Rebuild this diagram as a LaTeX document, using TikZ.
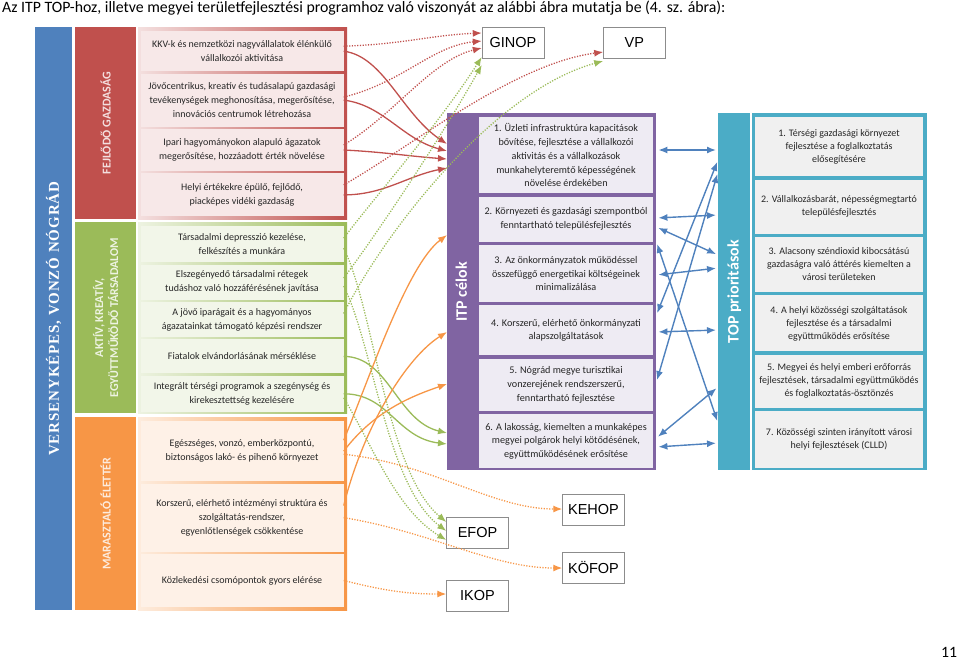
\documentclass[tikz,border=0pt]{standalone}
\usepackage{fontspec}
\setmainfont{Carlito}
\newfontfamily\progfont{Liberation Sans}
\newfontfamily\headfont[LetterSpace=6]{Liberation Serif}
\usetikzlibrary{positioning}
\usetikzlibrary{calc}
\usetikzlibrary{arrows.meta}
\definecolor{vers-blue}{HTML}{4F81BD}
\definecolor{gazd-red}{HTML}{C0504D}
\definecolor{tars-green}{HTML}{9BBB59}
\definecolor{elet-orange}{HTML}{F79646}
\definecolor{itp-purple}{HTML}{8064A2}
\definecolor{top-teal}{HTML}{4BACC6}
\colorlet{body}{black!85}

\begin{document}
\begin{tikzpicture}[x=1pt, y=1pt,
  band/.style={anchor=north west, minimum width=61pt, inner sep=0pt, fill=#1},
  panel/.style={anchor=north west, minimum width=209pt, inner sep=0pt, left color=#1!18, right color=#1},
  bandlabel/.style={rotate=90, align=center, font=\bfseries\fontsize{12}{15}\selectfont},
  goal/.style={fill=#1!13!white, text=body, align=center, inner sep=0pt, minimum width=203pt, font=\fontsize{10}{14}\selectfont},
  prio/.style={fill=#1, text=body, align=center, inner sep=0pt, font=\fontsize{10.2}{13.8}\selectfont},
  prog/.style={draw=black!45, fill=white, inner sep=0pt, minimum width=62pt, minimum height=31pt, font=\progfont\fontsize{14.5}{17}\selectfont},
  flow/.style={line width=1.3pt, -{Latex[length=9pt, width=7pt]}},
  dots/.style={line width=1.3pt, dash pattern=on 1.2pt off 1.5pt, -{Latex[length=9pt, width=7pt]}},
  both/.style={draw=vers-blue, line width=1.4pt, {Latex[length=9pt, width=7pt]}-{Latex[length=9pt, width=7pt]}, shorten <=2pt, shorten >=2pt}
]
\useasboundingbox (0,0) rectangle (960,-661);

% Title
\node[anchor=west, inner sep=0pt, font=\fontsize{15.8}{19}\selectfont] (cim) at (2,-8) {Az ITP TOP-hoz, illetve megyei területfejlesztési programhoz való viszonyát az alábbi ábra mutatja be (4. sz. ábra):};
\node[inner sep=0pt, font=\fontsize{15.8}{19}\selectfont] (oldal) at (949,-652) {11};

% Vision
\node[band=vers-blue, minimum width=37pt, minimum height=583pt] (versband) at (35,-27) {};
\node[rotate=90, text=white, font=\headfont\bfseries\fontsize{15}{18}\selectfont] (verslabel) at (versband.center) {VERSENYKÉPES, VONZÓ NÓGRÁD};

% Fejlodo gazdasag
\node[band=gazd-red, minimum height=192pt] (gazdband) at (75,-27) {};
\node[bandlabel, text=white!82!gazd-red] (gazdlabel) at (gazdband.center) {FEJLŐDŐ GAZDASÁG};
\node[panel=gazd-red, minimum height=192pt] (gazdpanel) at (138,-27) {};
\node[goal=gazd-red, anchor=north, minimum height=40pt] (r1) at (242,-31) {KKV-k és nemzetközi nagyvállalatok élénkülő\\vállalkozói aktivitása};
\node[goal=gazd-red, minimum height=53pt, below=2pt of r1] (r2) {Jövőcentrikus, kreatív és tudásalapú gazdasági\\tevékenységek meghonosítása, megerősítése,\\innovációs centrumok létrehozása};
\node[goal=gazd-red, minimum height=42pt, below=2pt of r2] (r3) {Ipari hagyományokon alapuló ágazatok\\megerősítése, hozzáadott érték növelése};
\node[goal=gazd-red, minimum height=43pt, below=2pt of r3] (r4) {Helyi értékekre épülő, fejlődő,\\piacképes vidéki gazdaság};

% Aktiv tarsadalom
\node[band=tars-green, minimum height=191pt] (tarsband) at (75,-222) {};
\node[bandlabel, text=white!82!tars-green] (tarslabel) at (tarsband.center) {AKTÍV, KREATÍV,\\EGYÜTTMŰKÖDŐ TÁRSADALOM};
\node[panel=tars-green, minimum height=191pt] (tarspanel) at (138,-222) {};
\node[goal=tars-green, anchor=north, minimum height=36pt] (g1) at (242,-226) {Társadalmi depresszió kezelése,\\felkészítés a munkára};
\node[goal=tars-green, minimum height=35pt, below=2pt of g1] (g2) {Elszegényedő társadalmi rétegek\\tudáshoz való hozzáférésének javítása};
\node[goal=tars-green, minimum height=35pt, below=2pt of g2] (g3) {A jövő iparágait és a hagyományos\\ágazatainkat támogató képzési rendszer};
\node[goal=tars-green, minimum height=34pt, below=2pt of g3] (g4) {Fiatalok elvándorlásának mérséklése};
\node[goal=tars-green, minimum height=36pt, below=2pt of g4] (g5) {Integrált térségi programok a szegénység és\\kirekesztettség kezelésére};

% Marasztalo eletter
\node[band=elet-orange, minimum height=193pt] (eletband) at (75,-417) {};
\node[bandlabel, text=white!82!elet-orange] (eletlabel) at (eletband.center) {MARASZTALÓ ÉLETTÉR};
\node[panel=elet-orange, minimum height=193pt] (eletpanel) at (138,-417) {};
\node[goal=elet-orange, anchor=north, minimum height=60pt] (o1) at (242,-421) {Egészséges, vonzó, emberközpontú,\\biztonságos lakó- és pihenő környezet};
\node[goal=elet-orange, minimum height=68pt, below=2pt of o1] (o2) {Korszerű, elérhető intézményi struktúra és\\szolgáltatás-rendszer,\\egyenlőtlenségek csökkentése};
\node[goal=elet-orange, minimum height=53pt, below=2pt of o2] (o3) {Közlekedési csomópontok gyors elérése};

% ITP celok
\node[band=itp-purple, minimum width=28pt, minimum height=357pt] (itpband) at (447,-113) {};
\node[rotate=90, text=white, font=\bfseries\fontsize{16}{19}\selectfont] (itplabel) at (itpband.center) {ITP célok};
\node[anchor=north west, fill=itp-purple, minimum width=181pt, minimum height=357pt, inner sep=0pt] (itppanel) at (475,-113) {};
\node[prio=itp-purple!13!white, anchor=north, minimum width=174pt, minimum height=76pt] (i1) at (566,-117) {1. Üzleti infrastruktúra kapacitások\\bővítése, fejlesztése a vállalkozói\\aktivitás és a vállalkozások\\munkahelyteremtő képességének\\növelése érdekében};
\node[prio=itp-purple!13!white, minimum width=174pt, minimum height=45pt, below=3pt of i1] (i2) {2. Környezeti és gazdasági szempontból\\fenntartható településfejlesztés};
\node[prio=itp-purple!13!white, minimum width=174pt, minimum height=57pt, below=3pt of i2] (i3) {3. Az önkormányzatok működéssel\\összefüggő energetikai költségeinek\\minimalizálása};
\node[prio=itp-purple!13!white, minimum width=174pt, minimum height=50pt, below=3pt of i3] (i4) {4. Korszerű, elérhető önkormányzati\\alapszolgáltatások};
\node[prio=itp-purple!13!white, minimum width=174pt, minimum height=52pt, below=3pt of i4] (i5) {5. Nógrád megye turisztikai\\vonzerejének rendszerszerű,\\fenntartható fejlesztése};
\node[prio=itp-purple!13!white, minimum width=174pt, minimum height=54pt, below=3pt of i5] (i6) {6. A lakosság, kiemelten a munkaképes\\megyei polgárok helyi kötődésének,\\együttműködésének erősítése};

% TOP prioritasok
\node[band=top-teal, minimum width=32pt, minimum height=357pt] (topband) at (718,-113) {};
\node[rotate=90, text=white, font=\bfseries\fontsize{16}{19}\selectfont] (toplabel) at (topband.center) {TOP prioritások};
\node[anchor=north west, fill=top-teal, minimum width=175pt, minimum height=357pt, inner sep=0pt] (toppanel) at (752,-113) {};
\node[prio=black!6, font=\fontsize{10}{13}\selectfont, anchor=north, minimum width=168pt, minimum height=59pt] (t1) at (839,-117) {1. Térségi gazdasági környezet\\fejlesztése a foglalkoztatás\\elősegítésére};
\node[prio=black!6, font=\fontsize{10}{13}\selectfont, minimum width=168pt, minimum height=54pt, below=3pt of t1] (t2) {2. Vállalkozásbarát, népességmegtartó\\településfejlesztés};
\node[prio=black!6, font=\fontsize{10}{13}\selectfont, minimum width=168pt, minimum height=55pt, below=3pt of t2] (t3) {3. Alacsony széndioxid kibocsátású\\gazdaságra való áttérés kiemelten a\\városi területeken};
\node[prio=black!6, font=\fontsize{10}{13}\selectfont, minimum width=168pt, minimum height=56pt, below=3pt of t3] (t4) {4. A helyi közösségi szolgáltatások\\fejlesztése és a társadalmi\\együttműködés erősítése};
\node[prio=black!6, font=\fontsize{10}{13}\selectfont, minimum width=168pt, minimum height=53pt, below=3pt of t4] (t5) {5. Megyei és helyi emberi erőforrás\\fejlesztések, társadalmi együttműködés\\és foglalkoztatás-ösztönzés};
\node[prio=black!6, font=\fontsize{10}{13}\selectfont, minimum width=168pt, minimum height=57pt, below=3pt of t5] (t7) {7. Közösségi szinten irányított városi\\helyi fejlesztések (CLLD)};

% Operative programmes
\node[prog] (ginop) at (513,-42.5) {GINOP};
\node[prog, right=59pt of ginop] (vp) {VP};
\node[prog] (kehop) at (593.5,-509.5) {KEHOP};
\node[prog, below=27pt of kehop] (kofop) {KÖFOP};
\node[prog] (efop) at (477.5,-533) {EFOP};
\node[prog, below=31pt of efop] (ikop) {IKOP};

% Goals to ITP
\draw[flow, gazd-red] (r1.east) .. controls +(40,-5) and +(-45,30) .. (itpband.west |- 0,-144);
\draw[flow, gazd-red] (r2.east) .. controls +(40,-5) and +(-45,12) .. (itpband.west |- 0,-151);
\draw[flow, gazd-red] (r3.east) .. controls +(40,-2) and +(-40,3) .. (itpband.west |- 0,-159);
\draw[flow, gazd-red] (r4.east) .. controls +(40,0) and +(-40,-8) .. (itpband.west |- 0,-168);
\draw[flow, tars-green] (g4.east) .. controls +(45,0) and +(-50,12) .. (itpband.west |- 0,-433);
\draw[flow, tars-green] (g5.east) .. controls +(45,0) and +(-50,6) .. (itpband.west |- 0,-444);
\draw[flow, elet-orange] ([yshift=11pt]o1.east) .. controls +(25,60) and +(-40,-30) .. (itpband.west |- 0,-235);
\draw[flow, elet-orange] (o1.east) .. controls +(30,40) and +(-35,-12) .. (itpband.west |- 0,-384);
\draw[flow, elet-orange] ([yshift=12pt]o2.east) .. controls +(20,80) and +(-40,-25) .. (itpband.west |- 0,-332);

% Goals to programmes
\draw[dots, gazd-red] ([yshift=5pt]r1.east) .. controls +(60,2) and +(-50,-2) .. (ginop.west |- 0,-33);
\draw[dots, gazd-red] ([yshift=3pt]r2.east) .. controls +(60,15) and +(-50,-5) .. (ginop.west |- 0,-41);
\draw[dots, gazd-red] ([yshift=5pt]r3.east) .. controls +(50,30) and +(-50,-12) .. (ginop.west |- 0,-48);
\draw[dots, gazd-red] ([yshift=10pt]r4.east) .. controls +(70,40) and +(-90,-12) .. (vp.west |- 0,-52);
\draw[dots, tars-green] ([yshift=6pt]g1.east) .. controls +(30,40) and +(-45,-70) .. (ginop.west |- 0,-57);
\draw[dots, tars-green] ([yshift=4pt]g2.east) .. controls +(30,40) and +(-45,-80) .. (ginop.west |- 0,-65);
\draw[dots, tars-green] ([yshift=6pt]g3.east) .. controls +(40,80) and +(-110,-30) .. (vp.west |- 0,-61);
\draw[dots, tars-green] ([yshift=-4pt]g1.east) .. controls +(30,-60) and +(-60,50) .. (efop.west |- 0,-522);
\draw[dots, tars-green] ([yshift=-4pt]g2.east) .. controls +(30,-60) and +(-60,45) .. (efop.west |- 0,-531);
\draw[dots, tars-green] ([yshift=-4pt]g5.east) .. controls +(30,-50) and +(-50,30) .. (efop.west |- 0,-540);
\draw[dots, elet-orange] ([yshift=-3pt]o1.east) .. controls +(90,-10) and +(-70,0) .. (kehop.west |- 0,-509);
\draw[dots, elet-orange] (o2.east) .. controls +(90,-15) and +(-70,0) .. (kofop.west |- 0,-568);
\draw[dots, elet-orange] (o3.east) .. controls +(40,-10) and +(-40,0) .. (ikop.west |- 0,-594);

% ITP <-> TOP
\foreach \a/\b in {150/150, 315/160, 382/172, 218/215, 227/255, 242/423, 275/268, 332/330, 438/387, 447/443}
  \draw[both] (itppanel.east |- 0,-\a) -- (topband.west |- 0,-\b);
\end{tikzpicture}
\end{document}
